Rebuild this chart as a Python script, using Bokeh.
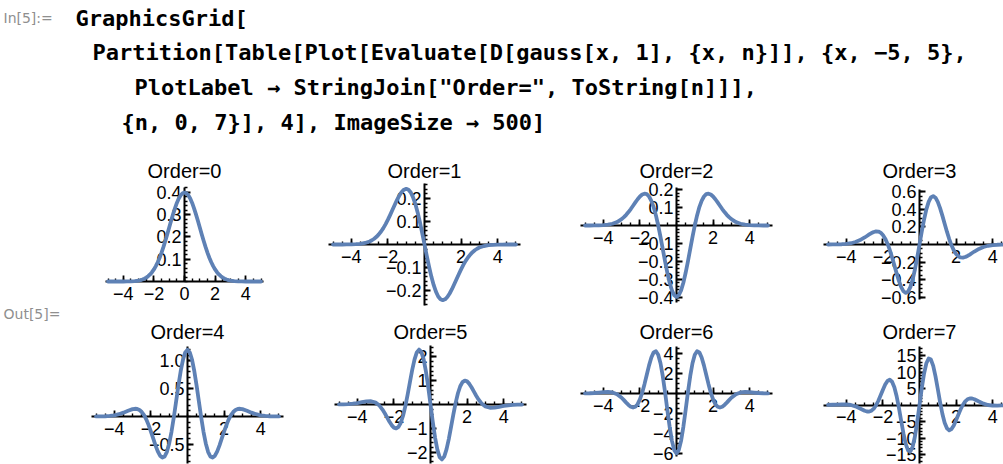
import numpy as np
from bokeh.plotting import figure
from bokeh.models import Range1d, FixedTicker, Label
from bokeh.layouts import column, row
from bokeh.embed import file_html
from bokeh.resources import INLINE
from bokeh.core.validation import silence
from bokeh.core.validation.warnings import MISSING_RENDERERS

silence(MISSING_RENDERERS, True)

# ---------------------------------------------------------------------------
# Sampled derivatives of the unit normal density, orders 0..7
# ---------------------------------------------------------------------------
x_values = [
    -5, -4.75, -4.5, -4.25, -4, -3.75, -3.5, -3.25, -3, -2.875, -2.75, -2.625,
    -2.5, -2.375, -2.25, -2.125, -2, -1.875, -1.75, -1.625, -1.5, -1.375, -1.25,
    -1.125, -1, -0.875, -0.75, -0.625, -0.5, -0.375, -0.25, -0.125,
    0,
    0.125, 0.25, 0.375, 0.5, 0.625, 0.75, 0.875, 1, 1.125, 1.25, 1.375, 1.5,
    1.625, 1.75, 1.875, 2, 2.125, 2.25, 2.375, 2.5, 2.625, 2.75, 2.875, 3, 3.25,
    3.5, 3.75, 4, 4.25, 4.5, 4.75, 5,
]

order_0 = [
    0.0000, 0.0000, 0.0000, 0.0000, 0.0001, 0.0004, 0.0009, 0.0020, 0.0044, 0.0064,
    0.0091, 0.0127, 0.0175, 0.0238, 0.0317, 0.0417, 0.0540, 0.0688, 0.0863, 0.1065,
    0.1295, 0.1550, 0.1826, 0.2119, 0.2420, 0.2721, 0.3011, 0.3282, 0.3521, 0.3719,
    0.3867, 0.3958,
    0.3989,
    0.3958, 0.3867, 0.3719, 0.3521, 0.3282, 0.3011, 0.2721, 0.2420, 0.2119, 0.1826,
    0.1550, 0.1295, 0.1065, 0.0863, 0.0688, 0.0540, 0.0417, 0.0317, 0.0238, 0.0175,
    0.0127, 0.0091, 0.0064, 0.0044, 0.0020, 0.0009, 0.0004, 0.0001, 0.0000, 0.0000,
    0.0000, 0.0000,
]

order_1 = [
    0.0000, 0.0000, 0.0001, 0.0002, 0.0005, 0.0013, 0.0031, 0.0066, 0.0133, 0.0184,
    0.0250, 0.0334, 0.0438, 0.0565, 0.0714, 0.0887, 0.1080, 0.1290, 0.1510, 0.1731,
    0.1943, 0.2131, 0.2283, 0.2384, 0.2420, 0.2380, 0.2259, 0.2051, 0.1760, 0.1394,
    0.0967, 0.0495,
    0.0000,
    -0.0495, -0.0967, -0.1394, -0.1760, -0.2051, -0.2259, -0.2380, -0.2420, -0.2384,
    -0.2283, -0.2131, -0.1943, -0.1731, -0.1510, -0.1290, -0.1080, -0.0887, -0.0714,
    -0.0565, -0.0438, -0.0334, -0.0250, -0.0184, -0.0133, -0.0066, -0.0031, -0.0013,
    -0.0005, -0.0002, -0.0001, 0.0000, 0.0000,
]

order_2 = [
    0.0000, 0.0001, 0.0003, 0.0008, 0.0020, 0.0046, 0.0098, 0.0194, 0.0355, 0.0465,
    0.0597, 0.0750, 0.0920, 0.1103, 0.1289, 0.1467, 0.1620, 0.1730, 0.1779, 0.1748,
    0.1619, 0.1381, 0.1027, 0.0563, 0.0000, -0.0638, -0.1317, -0.2000, -0.2640,
    -0.3196, -0.3625, -0.3896,
    -0.3989,
    -0.3896, -0.3625, -0.3196, -0.2640, -0.2000, -0.1317, -0.0638, 0.0000, 0.0563,
    0.1027, 0.1381, 0.1619, 0.1748, 0.1779, 0.1730, 0.1620, 0.1467, 0.1289, 0.1103,
    0.0920, 0.0750, 0.0597, 0.0465, 0.0355, 0.0194, 0.0098, 0.0046, 0.0020, 0.0008,
    0.0003, 0.0001, 0.0000,
]

order_3 = [
    0.0002, 0.0005, 0.0012, 0.0031, 0.0070, 0.0146, 0.0283, 0.0499, 0.0798, 0.0969,
    0.1141, 0.1299, 0.1424, 0.1491, 0.1473, 0.1344, 0.1080, 0.0665, 0.0094, -0.0622,
    -0.1457, -0.2365, -0.3282, -0.4134, -0.4839, -0.5319, -0.5505, -0.5352, -0.4841,
    -0.3987, -0.2840, -0.1477,
    0.0000,
    0.1477, 0.2840, 0.3987, 0.4841, 0.5352, 0.5505, 0.5319, 0.4839, 0.4134, 0.3282,
    0.2365, 0.1457, 0.0622, -0.0094, -0.0665, -0.1080, -0.1344, -0.1473, -0.1491,
    -0.1424, -0.1299, -0.1141, -0.0969, -0.0798, -0.0499, -0.0283, -0.0146, -0.0070,
    -0.0031, -0.0012, -0.0005, -0.0002,
]

order_4 = [
    0.0007, 0.0019, 0.0047, 0.0105, 0.0218, 0.0410, 0.0694, 0.1039, 0.1330, 0.1390,
    0.1347, 0.1163, 0.0800, 0.0231, -0.0554, -0.1545, -0.2700, -0.3944, -0.5173,
    -0.6255, -0.7043, -0.7393, -0.7185, -0.6339, -0.4839, -0.2741, -0.0176, 0.2654,
    0.5501, 0.8092, 1.0165, 1.1505,
    1.1968,
    1.1505, 1.0165, 0.8092, 0.5501, 0.2654, -0.0176, -0.2741, -0.4839, -0.6339,
    -0.7185, -0.7393, -0.7043, -0.6255, -0.5173, -0.3944, -0.2700, -0.1545, -0.0554,
    0.0231, 0.0800, 0.1163, 0.1347, 0.1390, 0.1330, 0.1039, 0.0694, 0.0410, 0.0218,
    0.0105, 0.0047, 0.0019, 0.0007,
]

order_5 = [
    0.0029, 0.0071, 0.0160, 0.0326, 0.0594, 0.0954, 0.1300, 0.1381, 0.0798, 0.0122,
    -0.0859, -0.2146, -0.3697, -0.5414, -0.7139, -0.8658, -0.9718, -1.0056, -0.9431,
    -0.7675, -0.4736, -0.0707, 0.4147, 0.9405, 1.4518, 1.8877, 2.1888, 2.3066,
    2.2114, 1.8983, 1.3900, 0.7345,
    0.0000,
    -0.7345, -1.3900, -1.8983, -2.2114, -2.3066, -2.1888, -1.8877, -1.4518, -0.9405,
    -0.4147, 0.0707, 0.4736, 0.7675, 0.9431, 1.0056, 0.9718, 0.8658, 0.7139, 0.5414,
    0.3697, 0.2146, 0.0859, -0.0122, -0.0798, -0.1381, -0.1300, -0.0954, -0.0594,
    -0.0326, -0.0160, -0.0071, -0.0029,
]

order_6 = [
    0.0109, 0.0244, 0.0487, 0.0857, 0.1286, 0.1525, 0.1078, -0.0705, -0.4255, -0.6599,
    -0.9098, -1.1447, -1.3242, -1.4015, -1.3291, -1.0673, -0.5939, 0.0867, 0.9363,
    1.8801, 2.8109, 3.5992, 4.1107, 4.2276, 3.8715, 3.0223, 1.7298, 0.1145, -1.6448,
    -3.3340, -4.7351, -5.6607,
    -5.9841,
    -5.6607, -4.7351, -3.3340, -1.6448, 0.1145, 1.7298, 3.0223, 3.8715, 4.2276,
    4.1107, 3.5992, 2.8109, 1.8801, 0.9363, 0.0867, -0.5939, -1.0673, -1.3291,
    -1.4015, -1.3242, -1.1447, -0.9098, -0.6599, -0.4255, -0.0705, 0.1078, 0.1525,
    0.1286, 0.0857, 0.0487, 0.0244, 0.0109,
]

order_7 = [
    0.0373, 0.0731, 0.1233, 0.1690, 0.1579, -0.0005, -0.4026, -1.0578, -1.7550,
    -1.9706, -1.9867, -1.7170, -1.0921, -0.0801, 1.2927, 2.9266, 4.6432, 6.1960,
    7.2968, 7.6603, 7.0577, 5.3733, 2.6502, -0.8867, -4.8394, -8.6817, -11.8356,
    -13.7682, -14.0909, -12.6403, -9.5236, -5.1144,
    0.0000,
    5.1144, 9.5236, 12.6403, 14.0909, 13.7682, 11.8356, 8.6817, 4.8394, 0.8867,
    -2.6502, -5.3733, -7.0577, -7.6603, -7.2968, -6.1960, -4.6432, -2.9266, -1.2927,
    0.0801, 1.0921, 1.7170, 1.9867, 1.9706, 1.7550, 1.0578, 0.4026, 0.0005, -0.1579,
    -0.1690, -0.1233, -0.0731, -0.0373,
]

orders = [order_0, order_1, order_2, order_3, order_4, order_5, order_6, order_7]

# Tick values of every panel
x_ticks = [-4, -2, 2, 4]
x_ticks_first = [-4, -2, 0, 2, 4]
y_ticks = [
    [0.1, 0.2, 0.3, 0.4],
    [-0.2, -0.1, 0.1, 0.2],
    [-0.4, -0.3, -0.2, -0.1, 0.1, 0.2],
    [-0.6, -0.4, -0.2, 0.2, 0.4, 0.6],
    [-0.5, 0.5, 1.0],
    [-2, -1, 1, 2],
    [-6, -4, -2, 2, 4],
    [-15, -10, -5, 5, 10, 15],
]
y_tick_labels = [
    ["0.1", "0.2", "0.3", "0.4"],
    ["\u22120.2", "\u22120.1", "0.1", "0.2"],
    ["\u22120.4", "\u22120.3", "\u22120.2", "\u22120.1", "0.1", "0.2"],
    ["\u22120.6", "\u22120.4", "\u22120.2", "0.2", "0.4", "0.6"],
    ["\u22120.5", "0.5", "1.0"],
    ["\u22122", "\u22121", "1", "2"],
    ["\u22126", "\u22124", "\u22122", "2", "4"],
    ["\u221215", "\u221210", "\u22125", "5", "10", "15"],
]

code_lines = [
    "GraphicsGrid[",
    "Partition[Table[Plot[Evaluate[D[gauss[x, 1], {x, n}]], {x, \u22125, 5},",
    "PlotLabel \u2192 StringJoin[\"Order=\", ToString[n]]],",
    "{n, 0, 7}], 4], ImageSize \u2192 500]",
]

# ---------------------------------------------------------------------------
# Page geometry (pixels)
# ---------------------------------------------------------------------------
CURVE = "#5E81B5"
SANS = "Liberation Sans"
PAGE_W, PAGE_H = 1003, 464
GUTTER = 60
COL_W = [245, 245, 245, 208]
COL_LEFT = [60, 305, 550, 795]
HEADER_H = 150
ROW_TOP = [150, 310]
ROW_H = [160, 154]
TITLE_Y = [170, 331]

# page x of x=0, px per x unit, page y of y=0, px per y unit,
# axis extents in x and y, minor y step
panels = [
    (184, 15.3, 281, 223.0, (-5.15, 5.15), (0.0, 0.42), 0.02),
    (424, 18.29, 244, 230.0, (-5.25, 5.25), (-0.265, 0.265), 0.02),
    (676, 18.29, 225, 179.0, (-5.25, 5.25), (-0.43, 0.212), 0.02),
    (919, 18.29, 244, 88.0, (-5.25, 5.25), (-0.625, 0.625), 0.05),
    (187, 18.29, 416, 55.7, (-5.25, 5.25), (-0.85, 1.25), 0.1),
    (430, 18.29, 404, 23.8, (-5.25, 5.25), (-2.48, 2.48), 0.2),
    (676, 18.29, 393, 10.0, (-5.25, 5.25), (-6.3, 4.7), 0.5),
    (919, 18.29, 404.5, 3.3, (-5.25, 5.25), (-17.7, 17.7), 1.0),
]


def minor_positions(lo, hi, step):
    start = np.ceil(lo / step - 1e-9) * step
    vals = np.arange(start, hi + step * 0.01, step)
    return [float(v) for v in np.round(vals, 6)]


def blank(width, height):
    f = figure(width=width, height=height, x_axis_type=None, y_axis_type=None,
               min_border=0, toolbar_location=None, output_backend="svg")
    f.title.visible = False
    f.outline_line_color = None
    f.background_fill_color = "white"
    f.border_fill_color = "white"
    return f


def make_panel(n):
    ax_x, sx, ax_y, sy, xb, yb, mstep = panels[n]
    r, c = n // 4, n % 4
    fw, fh = COL_W[c], ROW_H[r]
    x0 = ax_x - COL_LEFT[c]          # canvas px of x = 0
    y0 = ax_y - ROW_TOP[r]           # canvas px (from top) of y = 0
    p = figure(
        width=fw, height=fh,
        x_range=Range1d(-x0 / sx, (fw - x0) / sx),
        y_range=Range1d(-(fh - y0) / sy, y0 / sy),
        min_border=0, toolbar_location=None, output_backend="svg",
    )
    p.title.visible = False
    p.outline_line_color = None
    p.grid.visible = False
    p.background_fill_color = "white"
    p.border_fill_color = "white"

    p.line(x_values, orders[n], line_width=3.8, line_color=CURVE,
           line_join="round", line_cap="round")

    xt = x_ticks_first if n == 0 else x_ticks
    xax = p.xaxis[0]
    xax.ticker = FixedTicker(ticks=xt, minor_ticks=minor_positions(xb[0], xb[1], 0.5))
    xax.major_label_overrides = {t: str(t).replace("-", "\u2212") for t in xt}
    xax.fixed_location = 0
    xax.bounds = xb

    yax = p.yaxis[0]
    yax.ticker = FixedTicker(ticks=y_ticks[n],
                             minor_ticks=minor_positions(yb[0], yb[1], mstep))
    yax.major_label_overrides = dict(zip(y_ticks[n], y_tick_labels[n]))
    yax.fixed_location = 0
    yax.bounds = yb

    for ax in (xax, yax):
        ax.level = "underlay"
        ax.axis_line_color = "black"
        ax.axis_line_width = 2
        ax.major_tick_line_color = "black"
        ax.major_tick_line_width = 1.8
        ax.major_tick_in = 6
        ax.major_tick_out = 0
        ax.minor_tick_line_color = "black"
        ax.minor_tick_line_width = 1.4
        ax.minor_tick_in = 3
        ax.minor_tick_out = 0
        ax.major_label_text_font = SANS
        ax.major_label_text_font_size = "18px"
        ax.major_label_text_color = "black"
    xax.major_label_standoff = 5
    yax.major_label_standoff = 3

    p.add_layout(Label(
        x=x0, y=fh - (TITLE_Y[r] - ROW_TOP[r]), x_units="screen", y_units="screen",
        text=f"Order={n}", text_align="center", text_baseline="middle",
        text_font=SANS, text_font_size="20px", text_color="black",
    ))
    return p


# Notebook input cell
header = blank(PAGE_W, HEADER_H)
header.add_layout(Label(x=3, y=HEADER_H - 17, x_units="screen", y_units="screen",
                        text="In[5]:=", text_baseline="middle", text_font="DejaVu Sans",
                        text_font_size="14px", text_color="#8f8f8f"))
code_pos = [(75, 18), (92, 52), (134, 87), (121, 122)]
for (cx, cy), line in zip(code_pos, code_lines):
    header.add_layout(Label(x=cx, y=HEADER_H - cy, x_units="screen", y_units="screen",
                            text=line, text_baseline="middle",
                            text_font="DejaVu Sans Mono", text_font_style="bold",
                            text_font_size="22px", text_color="black"))

# Output cell label, in a gutter spanning both grid rows
gutter_h = PAGE_H - HEADER_H
gutter = blank(GUTTER, gutter_h)
gutter.add_layout(Label(x=3, y=gutter_h - (313 - HEADER_H), x_units="screen",
                        y_units="screen", text="Out[5]=", text_baseline="middle",
                        text_font="DejaVu Sans", text_font_size="14px",
                        text_color="#8f8f8f"))

plots = [make_panel(n) for n in range(8)]

layout = column(
    header,
    row(gutter, column(row(*plots[:4]), row(*plots[4:]))),
)

open("out.html", "w").write(file_html(layout, INLINE))
